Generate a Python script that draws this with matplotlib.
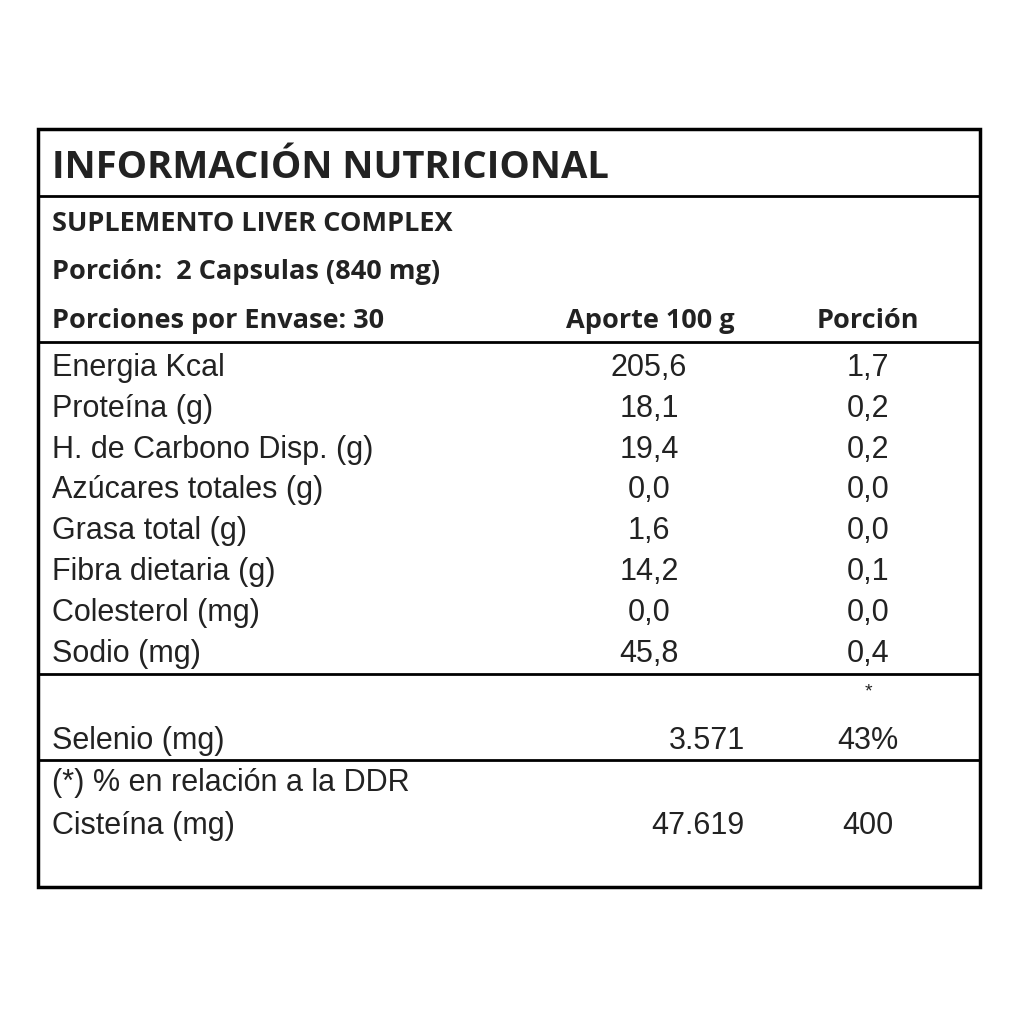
import matplotlib
matplotlib.use("Agg")
import matplotlib.pyplot as plt
from matplotlib.lines import Line2D
from matplotlib.patches import Rectangle

title = "INFORMACIÓN NUTRICIONAL"
subtitle = "SUPLEMENTO LIVER COMPLEX"
porcion_txt = "Porción:  2 Capsulas (840 mg)"
envase_txt = "Porciones por Envase: 30"
col_headers = ["Aporte 100 g", "Porción"]
nutrients = ["Energia Kcal", "Proteína (g)", "H. de Carbono Disp. (g)", "Azúcares totales (g)",
             "Grasa total (g)", "Fibra dietaria (g)", "Colesterol (mg)", "Sodio (mg)"]
aporte = ["205,6", "18,1", "19,4", "0,0", "1,6", "14,2", "0,0", "45,8"]
porcion = ["1,7", "0,2", "0,2", "0,0", "0,0", "0,1", "0,0", "0,4"]
extra_names = ["Selenio (mg)", "Cisteína (mg)"]
extra_aporte = ["3.571", "47.619"]
extra_porcion = ["43%", "400"]
footnote = "(*) % en relación a la DDR"

fig = plt.figure(figsize=(10.24, 10.24), dpi=100)
ax = fig.add_axes([0, 0, 1, 1])
ax.set_xlim(0, 1024); ax.set_ylim(1024, 0); ax.axis("off")

ax.add_patch(Rectangle((38, 129), 942, 758, fill=False, lw=2.5, color="black"))
for y in [196, 342, 674, 760]:
    ax.add_line(Line2D([38, 980], [y, y], lw=2, color="black"))

hb = dict(family="Open Sans", weight="bold", color="#222")
body = dict(family="Liberation Sans", color="#222", fontsize=22)
ax.text(52, 168, title, fontsize=27.5, va="center", **hb)
hs = 19.5
ax.text(52, 224, subtitle, fontsize=hs, va="center", **hb)
ax.text(52, 272, porcion_txt, fontsize=hs, va="center", **hb)
ax.text(52, 321, envase_txt, fontsize=hs, va="center", **hb)
ax.text(650, 321, col_headers[0], fontsize=hs, va="center", ha="center", **hb)
ax.text(868, 321, col_headers[1], fontsize=hs, va="center", ha="center", **hb)

y0, dy = 368, 40.8
for i, (n, a, p) in enumerate(zip(nutrients, aporte, porcion)):
    y = y0 + i * dy
    ax.text(52, y, n, va="center", **body)
    ax.text(649, y, a, va="center", ha="center", **body)
    ax.text(868, y, p, va="center", ha="center", **body)

ax.text(868, 692, "*", va="center", ha="center", family="Liberation Sans", fontsize=14, color="#222")
ax.text(52, 741, extra_names[0], va="center", **body)
ax.text(745, 741, extra_aporte[0], va="center", ha="right", **body)
ax.text(868, 741, extra_porcion[0], va="center", ha="center", **body)
ax.text(52, 783, footnote, va="center", **body)
ax.text(52, 826, extra_names[1], va="center", **body)
ax.text(745, 826, extra_aporte[1], va="center", ha="right", **body)
ax.text(868, 826, extra_porcion[1], va="center", ha="center", **body)

fig.savefig("out.png", dpi=100, facecolor="white")
